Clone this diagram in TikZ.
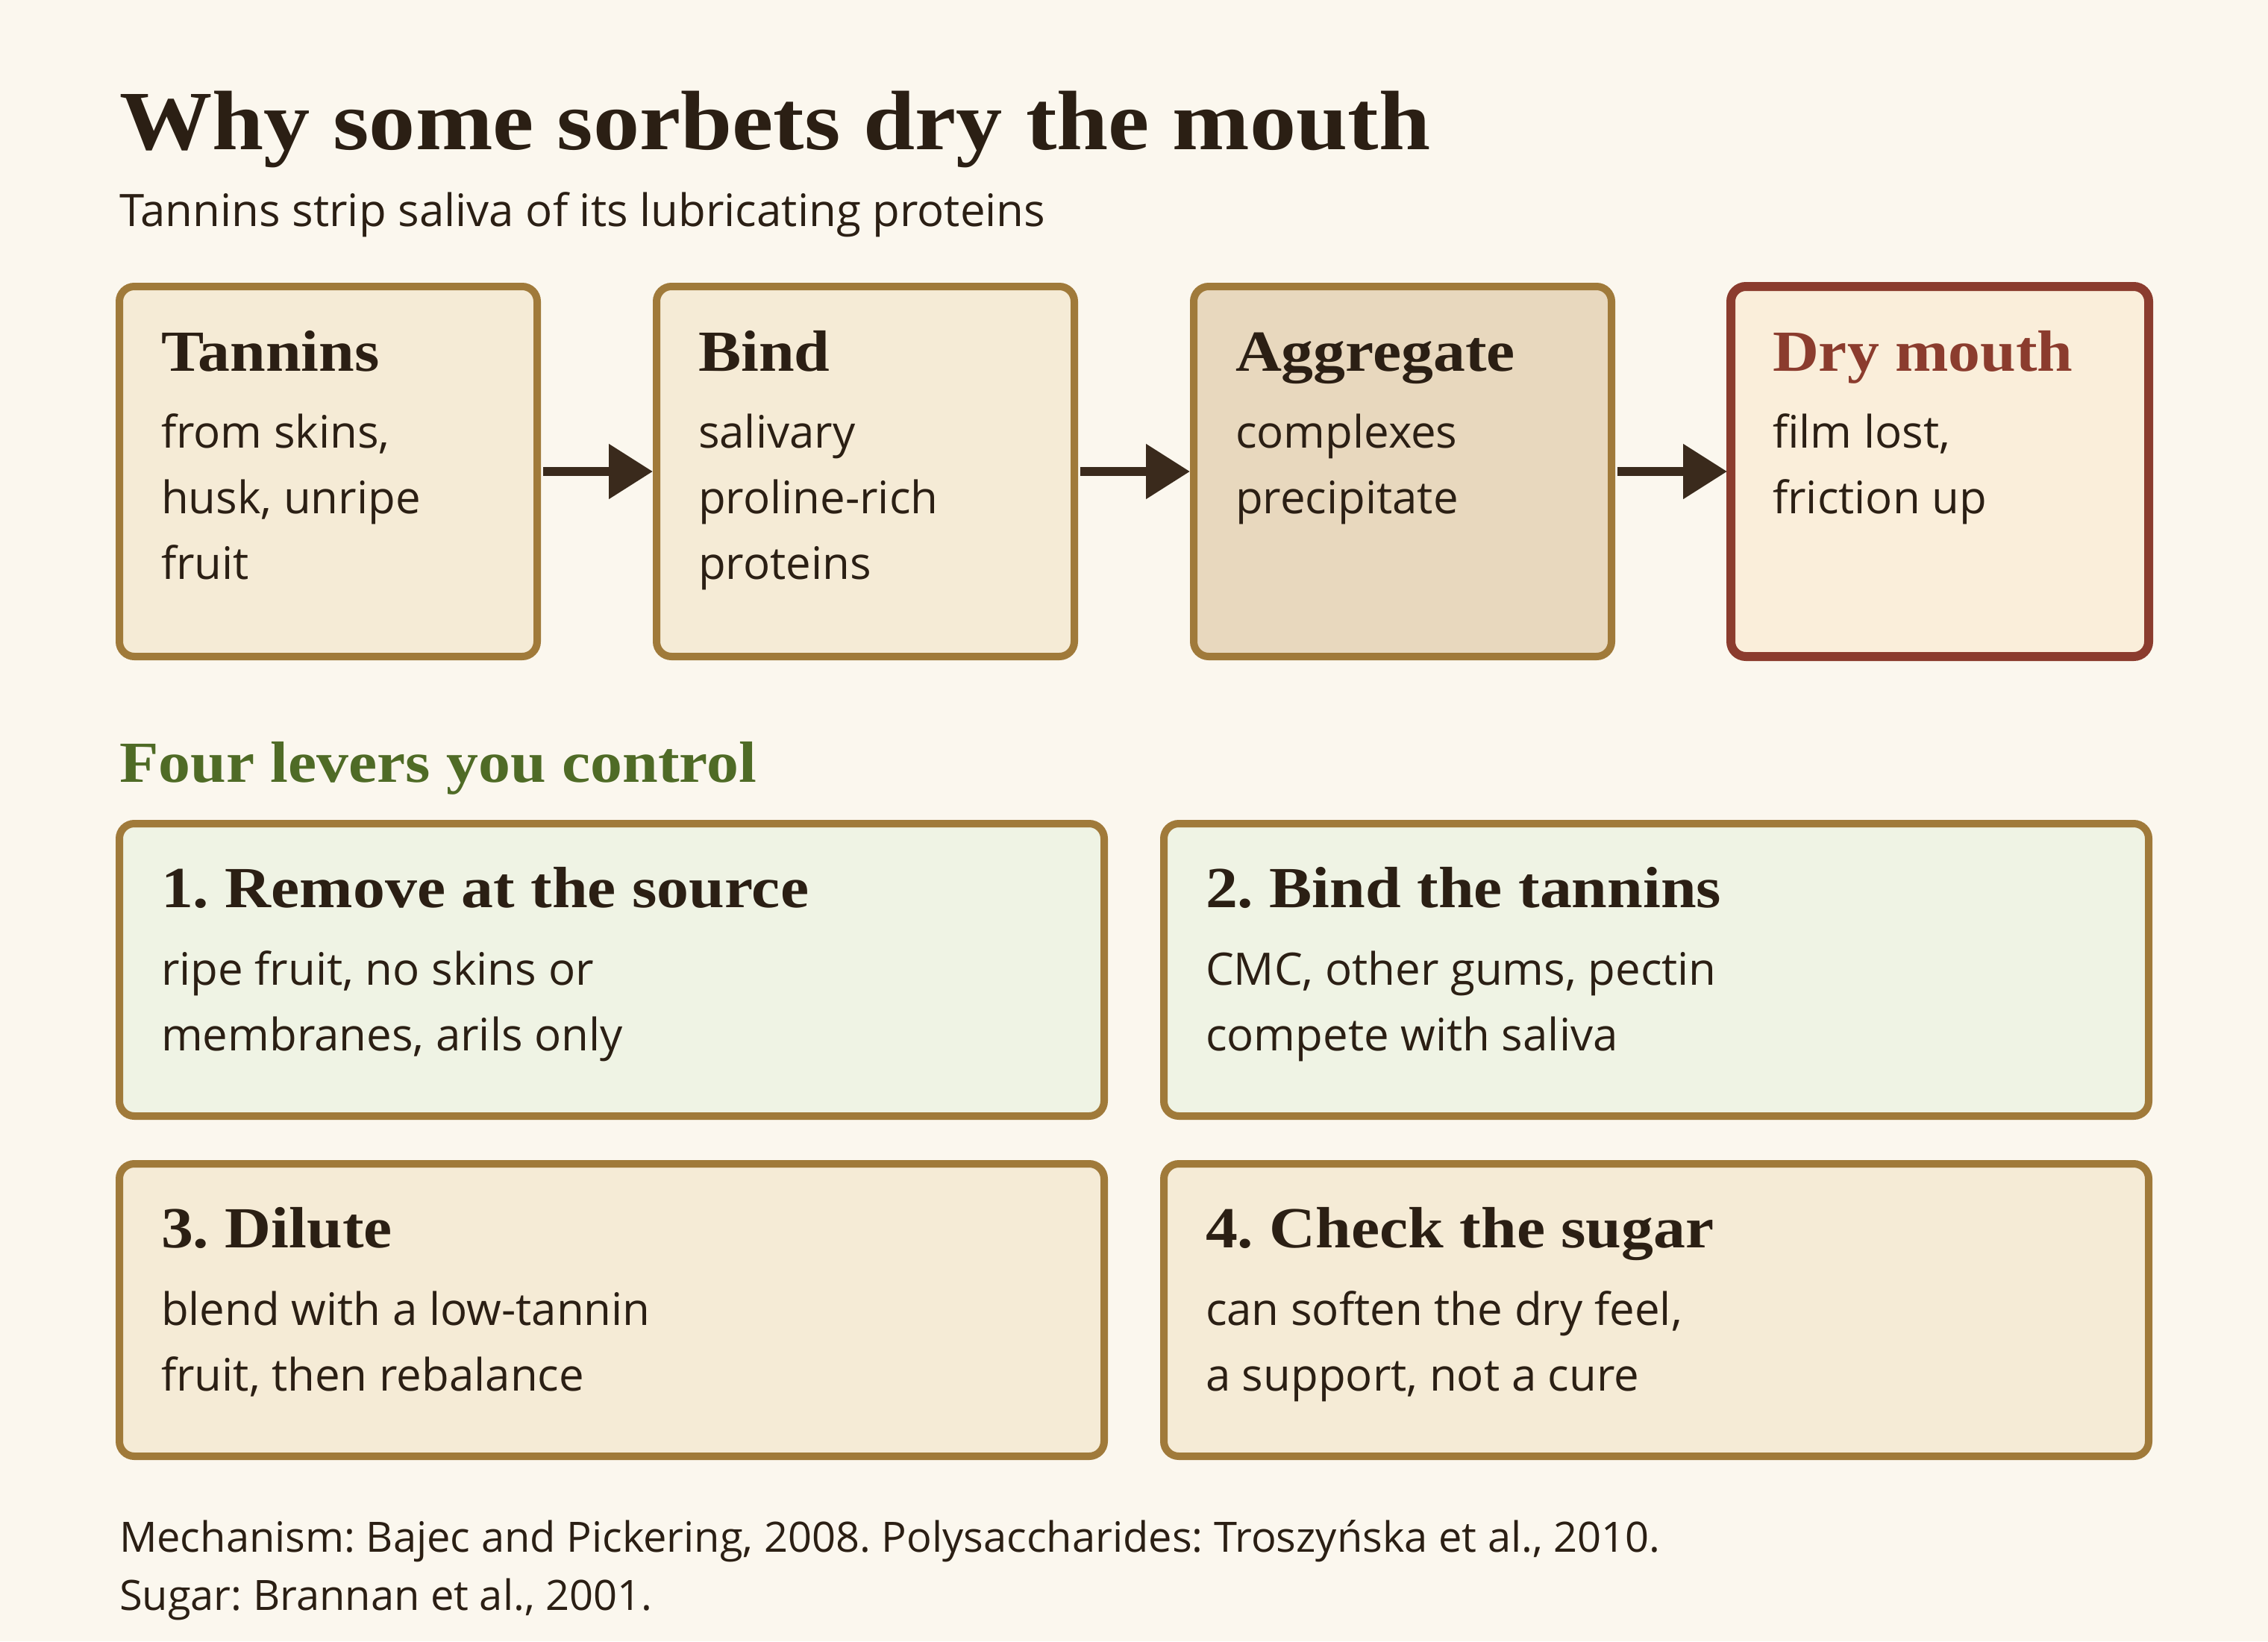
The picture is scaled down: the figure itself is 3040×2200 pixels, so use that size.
\documentclass[tikz,border=0pt]{standalone}
\usepackage{fontspec}
\setmainfont{Open Sans}
\newfontfamily\serifhead[FakeStretch=1.1]{Liberation Serif}
\usetikzlibrary{arrows.meta}
\frenchspacing

\definecolor{paper}{HTML}{FBF7EE}
\definecolor{sand}{HTML}{F5EBD6}
\definecolor{clay}{HTML}{E8D8BE}
\definecolor{blush}{HTML}{FAEEDA}
\definecolor{sage}{HTML}{EFF3E4}
\definecolor{gold}{HTML}{A07A3A}
\definecolor{rust}{HTML}{8B3C2E}
\definecolor{moss}{HTML}{4F6B26}
\definecolor{ink}{HTML}{2B1F14}
\definecolor{shaft}{HTML}{3A2A1C}

\begin{document}
\begin{tikzpicture}
		[x=0.5pt,y=-0.5pt,every node/.style={inner sep=0pt,outer sep=0pt},
		stage/.style={draw=gold,line width=5pt,rounded corners=10pt,fill=sand,minimum width=280pt,minimum height=248pt},
		lever/.style={stage,minimum width=660pt,minimum height=196pt},
		head/.style={anchor=base west,text=ink,font=\serifhead\bfseries\fontsize{39}{46}\selectfont},
		body/.style={anchor=base west,align=left,text=ink,font=\fontsize{30}{44}\selectfont},
		flow/.style={draw=shaft,line width=6pt,-{Triangle[length=29.5pt,width=35.5pt]},shorten <=4pt,shorten >=2.5pt}]
		\fill[paper] (0,0) rectangle (3040,2200);
		
		\node[head,font=\serifhead\bfseries\fontsize{56.5}{66}\selectfont] (title) at (160,200) {Why some sorbets dry the mouth};
		\node[body] (sub) at (160,303) {Tannins strip saliva of its lubricating proteins};
		
		% the chain (body nodes sit on their last line)
		\node[stage] (tannins) at (440,632) {};
		\node[stage] (bind) at (1160,632) {};
		\node[stage,fill=clay] (aggr) at (1880,632) {};
		\node[stage,draw=rust,line width=6pt,fill=blush] (dry) at (2600,632) {};
		
		\node[head] (tanninsT) at ([shift={(56,113)}]tannins.north west) {Tannins};
		\node[body] (tanninsB) at ([shift={(56,392)}]tannins.north west) {from skins,\\husk, unripe\\fruit};
		\node[head] (bindT) at ([shift={(56,113)}]bind.north west) {Bind};
		\node[body] (bindB) at ([shift={(56,392)}]bind.north west) {salivary\\proline-rich\\proteins};
		\node[head] (aggrT) at ([shift={(56,113)}]aggr.north west) {Aggregate};
		\node[body] (aggrB) at ([shift={(56,304)}]aggr.north west) {complexes\\precipitate};
		\node[head,text=rust] (dryT) at ([shift={(56,113)}]dry.north west) {Dry mouth};
		\node[body] (dryB) at ([shift={(56,304)}]dry.north west) {film lost,\\friction up};
		
		\foreach \from/\to in {tannins/bind, bind/aggr, aggr/dry}
		\draw[flow] (\from.east) -- (\to.west);
		
		% the levers
		\node[head,text=moss] (levers) at (160,1048) {Four levers you control};
		
		\node[lever,fill=sage] (l1) at (820,1300) {};
		\node[lever,fill=sage] (l2) at (2220,1300) {};
		\node[lever] (l3) at (820,1756) {};
		\node[lever] (l4) at (2220,1756) {};
		
		\node[head] (l1T) at ([shift={(56,112)}]l1.north west) {1. Remove at the source};
		\node[body] (l1B) at ([shift={(56,304)}]l1.north west) {ripe fruit, no skins or\\membranes, arils only};
		\node[head] (l2T) at ([shift={(56,112)}]l2.north west) {2. Bind the tannins};
		\node[body] (l2B) at ([shift={(56,304)}]l2.north west) {CMC, other gums, pectin\\compete with saliva};
		\node[head] (l3T) at ([shift={(56,112)}]l3.north west) {3. Dilute};
		\node[body] (l3B) at ([shift={(56,304)}]l3.north west) {blend with a low-tannin\\fruit, then rebalance};
		\node[head] (l4T) at ([shift={(56,112)}]l4.north west) {4. Check the sugar};
		\node[body] (l4B) at ([shift={(56,304)}]l4.north west) {can soften the dry feel,\\a support, not a cure};
		
		\node[body,font=\fontsize{28}{39}\selectfont] (refs) at (160,2158) {Mechanism: Bajec and Pickering, 2008. Polysaccharides: Troszyńska et al., 2010.\\Sugar: Brannan et al., 2001.};
		\end{tikzpicture}
\end{document}
